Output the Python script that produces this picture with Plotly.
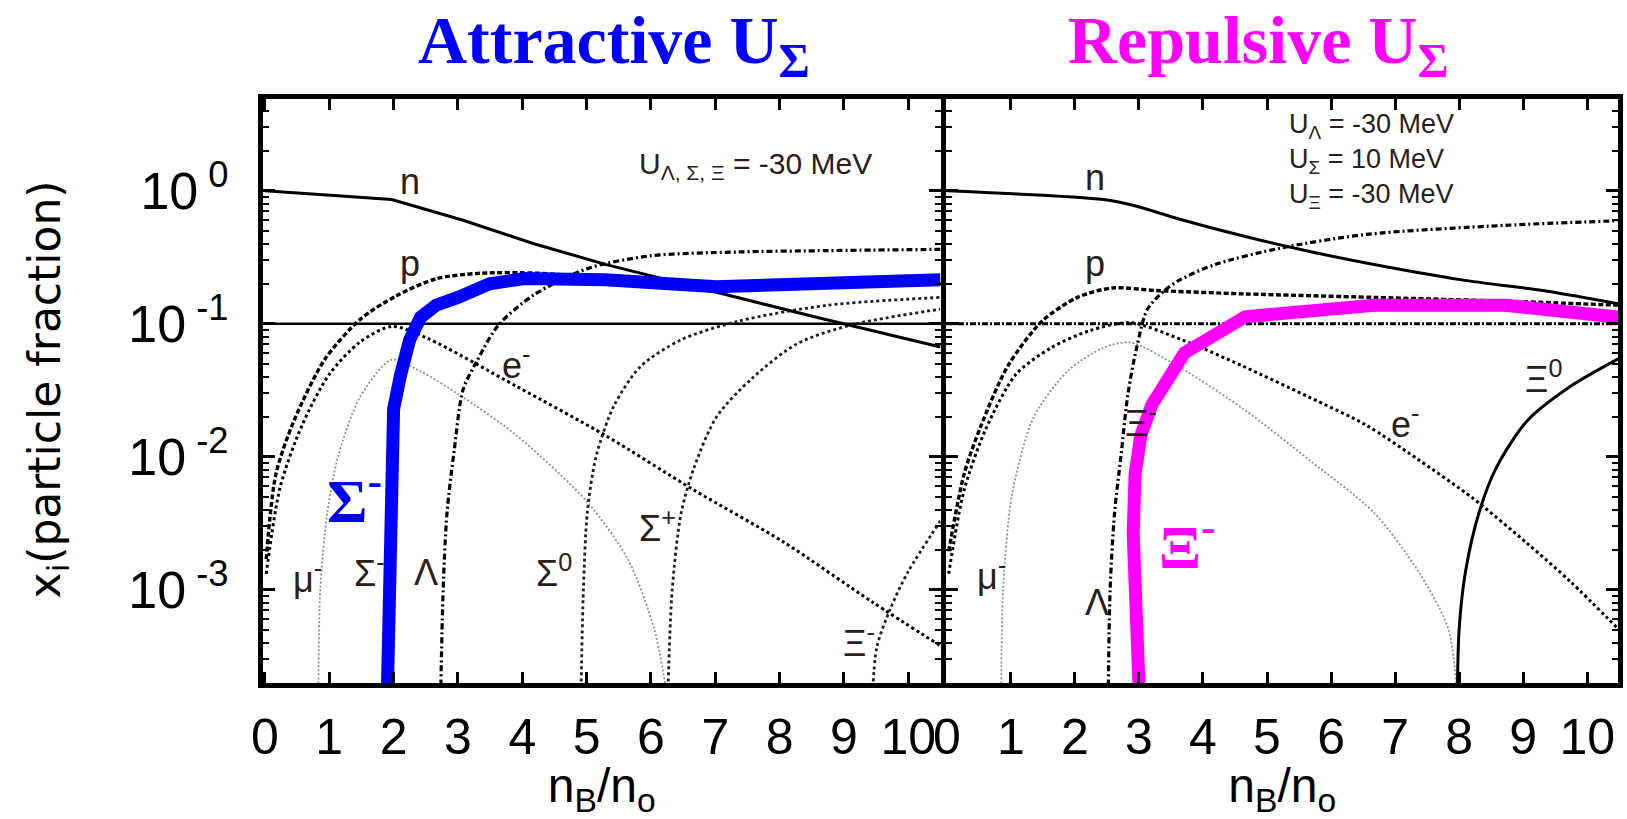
import numpy as np
import plotly.graph_objects as go

# ---------------- Left panel : attractive U_Sigma ----------------
L_n_x = [0.0, 1.97, 3.08, 4.18, 5.29, 6.67, 8.54, 10.5]
L_n_y = [1.0, 0.86, 0.60, 0.40, 0.28, 0.19, 0.113, 0.067]

L_p_x = [0.02, 0.17, 0.45, 0.93, 1.48, 2.04, 2.66, 3.35, 4.25, 5.29, 6.67, 10.5]
L_p_y = [0.0017, 0.0074, 0.0186, 0.054, 0.108, 0.162, 0.218, 0.24, 0.24, 0.219, 0.204, 0.20]

L_e_x = [0.02, 0.24, 0.58, 1.0, 1.48, 1.97, 2.52, 3.91, 5.29, 6.67, 8.06, 9.44, 10.5]
L_e_y = [0.00132, 0.0060, 0.0174, 0.0417, 0.0730, 0.0955, 0.0780, 0.0339, 0.0145,
         0.00562, 0.00229, 0.00081, 0.00038]

L_mu_x = [0.83, 0.86, 0.97, 1.14, 1.48, 1.97, 2.39, 3.01, 3.91, 5.01, 5.64, 6.05, 6.26]
L_mu_y = [0.00015, 0.001, 0.0038, 0.0102, 0.0282, 0.0537, 0.0447, 0.0295, 0.0145,
          0.00457, 0.0017, 0.00051, 0.00015]

L_lam_x = [2.73, 2.77, 2.83, 2.94, 3.08, 3.29, 3.63, 4.18, 5.01, 5.98, 7.37, 8.75, 10.5]
L_lam_y = [0.00015, 0.001, 0.0038, 0.0110, 0.032, 0.052, 0.098, 0.165, 0.26, 0.324,
           0.347, 0.355, 0.363]

L_s0_x = [4.91, 4.95, 5.01, 5.15, 5.43, 5.84, 6.47, 7.37, 8.75, 10.5]
L_s0_y = [0.00015, 0.001, 0.0038, 0.0102, 0.0245, 0.0479, 0.0759, 0.105, 0.138, 0.158]

L_sp_x = [6.26, 6.33, 6.47, 6.67, 7.02, 7.57, 8.27, 9.1, 10.5]
L_sp_y = [0.00015, 0.001, 0.0038, 0.0083, 0.02, 0.0389, 0.0708, 0.0977, 0.129]

L_xi_x = [9.44, 9.51, 9.72, 10.0, 10.5]
L_xi_y = [0.00015, 0.00037, 0.00072, 0.00138, 0.0033]

L_sigm_x = [1.9, 1.93, 1.97, 2.0, 2.11, 2.25, 2.42, 2.66, 3.0, 3.49, 4.04, 5.29, 7.02, 8.75, 10.5]
L_sigm_y = [0.00015, 0.00195, 0.0145, 0.0229, 0.0417, 0.0759, 0.112, 0.138, 0.158, 0.20,
            0.219, 0.214, 0.19, 0.204, 0.214]

# ---------------- Right panel : repulsive U_Sigma ----------------
R_n_x = [0.0, 2.45, 2.92, 3.61, 4.63, 5.65, 6.67, 8.04, 9.40, 10.5]
R_n_y = [1.0, 0.86, 0.776, 0.617, 0.457, 0.351, 0.279, 0.214, 0.175, 0.141]

R_p_x = [0.03, 0.27, 0.54, 0.95, 1.49, 2.04, 2.58, 3.27, 4.63, 6.67, 8.72, 10.5]
R_p_y = [0.00195, 0.0074, 0.0174, 0.0479, 0.105, 0.158, 0.186, 0.178, 0.168, 0.158, 0.148, 0.138]

R_e_x = [0.03, 0.27, 0.61, 1.08, 1.63, 2.24, 2.86, 3.67, 4.63, 5.65, 6.54, 7.36, 8.21, 9.06, 9.74, 10.5]
R_e_y = [0.00132, 0.0056, 0.0162, 0.0417, 0.0661, 0.0891, 0.102, 0.0759, 0.0479, 0.0282,
         0.0174, 0.00955, 0.0049, 0.00224, 0.00115, 0.0005]

R_mu_x = [0.85, 0.88, 1.02, 1.36, 1.90, 2.45, 2.86, 3.61, 4.63, 5.65, 6.67, 7.36, 7.83, 7.97]
R_mu_y = [0.00015, 0.001, 0.00525, 0.02, 0.0447, 0.0661, 0.0724, 0.0479, 0.0229, 0.00955,
          0.0038, 0.00138, 0.00051, 0.00015]

R_lam_x = [2.52, 2.55, 2.62, 2.72, 2.83, 2.97, 3.13, 3.40, 3.64, 4.20, 5.20, 6.55, 8.72, 10.5]
R_lam_y = [0.00015, 0.001, 0.0038, 0.0102, 0.0300, 0.068, 0.128, 0.178, 0.214, 0.28,
           0.37, 0.47, 0.55, 0.596]

R_xi0_x = [7.97, 8.0, 8.1, 8.31, 8.58, 9.06, 9.74, 10.5]
R_xi0_y = [0.00015, 0.00051, 0.00138, 0.0038, 0.0083, 0.0186, 0.0339, 0.055]

R_xim_x = [3.01, 2.96, 2.91, 2.94, 3.03, 3.2, 3.44, 3.71, 4.66, 6.67, 8.72, 10.5]
R_xim_y = [0.00015, 0.001, 0.00269, 0.0074, 0.0145, 0.0245, 0.0389, 0.0603, 0.113, 0.138,
           0.138, 0.112]

# reference line at x_i = 0.1 (both panels)
H_x = [-0.2, 10.7]
H_y = [0.1, 0.1]

# ---------------- labels ----------------
L_lab_text = ["n", "p", "e<sup>-</sup>", "μ<sup>-</sup>", "Σ<sup>-</sup>", "Λ",
              "Σ<sup>0</sup>", "Σ<sup>+</sup>", "Ξ<sup>-</sup>"]
L_lab_x = [2.07, 2.07, 3.66, 0.41, 1.35, 2.28, 4.18, 5.78, 8.96]
L_lab_y = [1.18, 0.286, 0.0507, 0.00126, 0.00138, 0.00135, 0.00138, 0.00302, 0.00041]

R_lab_text = ["n", "p", "Ξ<sup>-</sup>", "e<sup>-</sup>", "Ξ<sup>0</sup>", "μ<sup>-</sup>", "Λ"]
R_lab_x = [2.13, 2.13, 2.75, 6.91, 8.99, 0.44, 2.13]
R_lab_y = [1.25, 0.286, 0.0186, 0.0182, 0.0398, 0.00132, 0.00081]

x_ticks = list(range(0, 11))
y_ticks = [1e-3, 1e-2, 1e-1, 1.0]
y_ticktext = ["10<sup> -3</sup>", "10<sup> -2</sup>", "10<sup> -1</sup>", "10<sup> 0</sup>"]
minor_vals = [k * 10.0 ** e for e in range(-4, 1) for k in range(2, 10)]

fig = go.Figure()


def add(x, y, xa, ya, color, width, dash, shape="spline"):
    fig.add_trace(go.Scatter(
        x=x, y=y, mode="lines", xaxis=xa, yaxis=ya, showlegend=False, hoverinfo="skip",
        line=dict(color=color, width=width, dash=dash, shape=shape, smoothing=0.8)))


DOT = "3px,3px"
DASH = "5px,2.5px"
DASHDOT = "6px,3px,2px,3px"
MUCOL = "#7f9a7f"
DARK = "#1e1e1e"

# left panel
add(H_x, H_y, "x", "y", "black", 2.6, "solid", "linear")
add(L_mu_x, L_mu_y, "x", "y", MUCOL, 1.8, "2px,2px")
add(L_e_x, L_e_y, "x", "y", "black", 3, DOT)
add(L_p_x, L_p_y, "x", "y", "black", 3.4, DASH)
add(L_lam_x, L_lam_y, "x", "y", "black", 3.2, DASHDOT)
add(L_s0_x, L_s0_y, "x", "y", DARK, 2.8, DOT)
add(L_sp_x, L_sp_y, "x", "y", DARK, 2.8, DOT)
add(L_xi_x, L_xi_y, "x", "y", DARK, 2.8, DOT)
add(L_n_x, L_n_y, "x", "y", "black", 3, "solid", "linear")
add(L_sigm_x, L_sigm_y, "x", "y", "#0000FF", 13, "solid", "linear")

# right panel
add(H_x, H_y, "x2", "y2", "black", 3, "6px,2px,2px,2px", "linear")
add(R_mu_x, R_mu_y, "x2", "y2", MUCOL, 1.8, "2px,2px")
add(R_e_x, R_e_y, "x2", "y2", "black", 3, DOT)
add(R_p_x, R_p_y, "x2", "y2", "black", 3.4, DASH)
add(R_lam_x, R_lam_y, "x2", "y2", "black", 3.2, DASHDOT)
add(R_xi0_x, R_xi0_y, "x2", "y2", "black", 3, "solid")
add(R_n_x, R_n_y, "x2", "y2", "black", 3, "solid")
add(R_xim_x, R_xim_y, "x2", "y2", "#FF00FF", 13, "solid", "linear")

SANS = "Liberation Sans, Arial, Helvetica, sans-serif"
SERIF = "Liberation Serif, Times New Roman, serif"

xcommon = dict(showline=True, linecolor="black", linewidth=5, mirror="allticks",
               ticks="inside", ticklen=11, tickwidth=3, tickcolor="black",
               tickmode="array", tickvals=x_ticks, ticktext=[str(v) for v in x_ticks],
               showgrid=False, zeroline=False, ticklabelstandoff=6,
               tickfont=dict(family=SANS, size=50, color="black"),
               title=dict(text="n<sub>B</sub>/n<sub>o</sub>", standoff=14,
                          font=dict(family=SANS, size=48, color="black")))

ycommon = dict(type="log", range=[-3.70, 0.69], showline=True, linecolor="black",
               linewidth=5, mirror="allticks", ticks="inside", ticklen=12, tickwidth=3,
               tickcolor="black", tickmode="array", tickvals=y_ticks, ticktext=y_ticktext,
               showgrid=False, zeroline=False,
               minor=dict(ticks="inside", ticklen=6, tickwidth=2, tickcolor="black",
                          tickmode="array", tickvals=minor_vals, showgrid=False),
               tickfont=dict(family=SANS, size=52, color="black"))

fig.update_layout(
    width=1627, height=819,
    margin=dict(l=263, r=4, t=99, b=136),
    paper_bgcolor="white", plot_bgcolor="white", showlegend=False,
    xaxis=dict(domain=[0, 0.5], range=[-0.03, 10.5], anchor="y", **xcommon),
    xaxis2=dict(domain=[0.5044, 1], range=[-0.005, 10.48], anchor="y2", **xcommon),
    yaxis=dict(domain=[0, 1], anchor="x", showticklabels=True, ticklabelstandoff=19, **ycommon),
    yaxis2=dict(domain=[0, 1], anchor="x2", showticklabels=False, **ycommon),
)

ann = []
# panel titles
ann.append(dict(text="<b>Attractive U<sub>Σ</sub></b>", xref="paper", yref="paper",
                x=0.259, y=1.0925, xanchor="center", yanchor="middle", showarrow=False,
                font=dict(family=SERIF, size=68, color="#0000FF")))
ann.append(dict(text="<b>Repulsive U<sub>Σ</sub></b>", xref="paper", yref="paper",
                x=0.7346, y=1.0925, xanchor="center", yanchor="middle", showarrow=False,
                font=dict(family=SERIF, size=68, color="#FF00FF")))
# y axis title
ann.append(dict(text="x<sub>i</sub>(particle fraction)", xref="paper", yref="paper",
                x=-0.159, y=0.502, textangle=-90, xanchor="center", yanchor="middle",
                showarrow=False, font=dict(family="DejaVu Sans, sans-serif", size=44, color="black")))

# curve labels
for t, x, y in zip(L_lab_text, L_lab_x, L_lab_y):
    ann.append(dict(text=t, x=x, y=np.log10(y), xref="x", yref="y", xanchor="left",
                    yanchor="middle", showarrow=False,
                    font=dict(family=SANS, size=36, color="#2a2018")))
for t, x, y in zip(R_lab_text, R_lab_x, R_lab_y):
    ann.append(dict(text=t, x=x, y=np.log10(y), xref="x2", yref="y2", xanchor="left",
                    yanchor="middle", showarrow=False,
                    font=dict(family=SANS, size=36, color="#2a2018")))

# highlighted particle labels
ann.append(dict(text="<b>Σ<sup>-</sup></b>", x=0.93, y=np.log10(0.0051), xref="x", yref="y",
                xanchor="left", yanchor="middle", showarrow=False,
                font=dict(family=SERIF, size=62, color="#0000FF")))
ann.append(dict(text="<b>Ξ<sup>-</sup></b>", x=3.28, y=np.log10(0.0023), xref="x2", yref="y2",
                xanchor="left", yanchor="middle", showarrow=False,
                font=dict(family=SERIF, size=62, color="#FF00FF")))

# potential depth annotations
ann.append(dict(text="U<sub>Λ, Σ, Ξ</sub> = -30 MeV", x=5.78, y=np.log10(1.55), xref="x", yref="y",
                xanchor="left", yanchor="middle", showarrow=False,
                font=dict(family=SANS, size=30, color="#2a2018")))
ann.append(dict(text="U<sub>Λ</sub> = -30 MeV<br>U<sub>Σ</sub> = 10 MeV<br>U<sub>Ξ</sub> = -30 MeV",
                x=5.31, y=np.log10(1.68), xref="x2", yref="y2", align="left",
                xanchor="left", yanchor="middle", showarrow=False,
                font=dict(family=SANS, size=27, color="#2a2018")))

fig.update_layout(annotations=ann)
fig.write_html("out.html", config={"displayModeBar": False})
